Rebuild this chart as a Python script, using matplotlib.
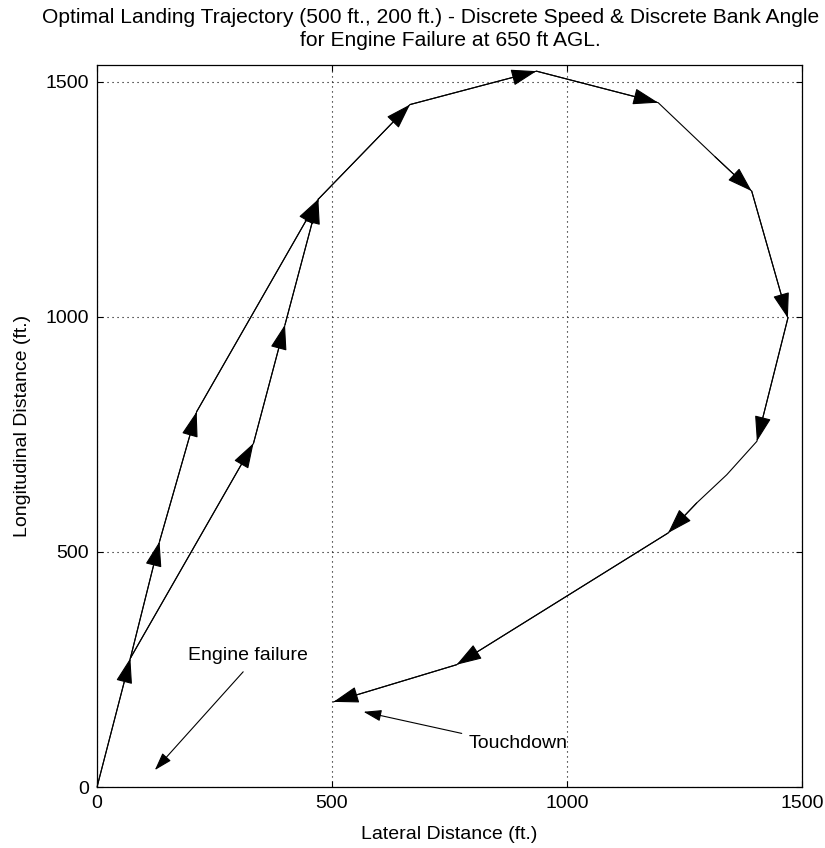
import matplotlib
matplotlib.use("Agg")
import matplotlib.pyplot as plt

# ---- data (ft) ----
start_x = [0, 71]
start_y = [0, 274]
start_arrow = [False, True]

branch_a_x = [71, 133, 212, 471]
branch_a_y = [274, 522, 798, 1250]
branch_a_arrow = [False, True, True, True]

branch_b_x = [71, 333, 400, 471]
branch_b_y = [274, 731, 983, 1250]
branch_b_arrow = [False, True, True, True]

loop_x = [471, 666, 935, 1194, 1315, 1393, 1470, 1404, 1340, 1276, 1215, 765, 503]
loop_y = [1250, 1451, 1522, 1455, 1340, 1267, 997, 735, 664, 604, 540, 260, 181]
loop_arrow = [False, True, True, True, False, True, True, True, False, False, True, True, True]

title_lines = ["Optimal Landing Trajectory (500 ft., 200 ft.) - Discrete Speed & Discrete Bank Angle",
               "for Engine Failure at 650 ft AGL."]
x_label = "Lateral Distance (ft.)"
y_label = "Longitudinal Distance (ft.)"
ticks = [0, 500, 1000, 1500]

engine_text = "Engine failure"
engine_text_pos = (194, 270)
engine_arrow_from = (311, 245)
engine_arrow_to = (123, 36)

td_text = "Touchdown"
td_text_pos = (790, 83)
td_arrow_from = (776, 114)
td_arrow_to = (567, 160)

# ---- figure ----
FS = 14
plt.rcParams['font.family'] = ['Liberation Sans', 'DejaVu Sans']
fig = plt.figure(figsize=(8.25, 8.48), dpi=100)
ax = fig.add_axes([0.1176, 0.0719, 0.8545, 0.8514])
ax.set_xlim(0, 1500)
ax.set_ylim(0, 1535)

ax.set_xticks(ticks)
ax.set_yticks(ticks)
ax.grid(True, color='black', linestyle=(0, (1, 3.5)), linewidth=0.8)
ax.tick_params(direction='in', top=True, right=True, length=4, width=0.8,
               labelsize=FS, pad=6)
for s in ax.spines.values():
    s.set_linewidth(0.9)

head_main = '-|>,head_length=16,head_width=5.2'
head_ann = '-|>,head_length=11,head_width=3.5'

def draw_path(xs, ys, flags):
    ax.plot(xs, ys, color='black', linewidth=0.8, zorder=3)
    for i in range(1, len(xs)):
        if flags[i]:
            ax.annotate('', xy=(xs[i], ys[i]), xytext=(xs[i - 1], ys[i - 1]),
                        arrowprops=dict(arrowstyle=head_main, mutation_scale=1,
                                        color='black', lw=0.8,
                                        shrinkA=0, shrinkB=0),
                        zorder=4)

draw_path(start_x, start_y, start_arrow)
draw_path(branch_a_x, branch_a_y, branch_a_arrow)
draw_path(branch_b_x, branch_b_y, branch_b_arrow)
draw_path(loop_x, loop_y, loop_arrow)

ax.annotate('', xy=engine_arrow_to, xytext=engine_arrow_from,
            arrowprops=dict(arrowstyle=head_ann, mutation_scale=1, color='black',
                            lw=0.8, shrinkA=0, shrinkB=0))
ax.text(*engine_text_pos, engine_text, fontsize=FS, ha='left', va='baseline')
ax.annotate('', xy=td_arrow_to, xytext=td_arrow_from,
            arrowprops=dict(arrowstyle=head_ann, mutation_scale=1, color='black',
                            lw=0.8, shrinkA=0, shrinkB=0))
ax.text(*td_text_pos, td_text, fontsize=FS, ha='left', va='baseline')

ax.set_xlabel(x_label, fontsize=FS, labelpad=10)
ax.set_ylabel(y_label, fontsize=FS, labelpad=10)

fig.text(0.5224, 0.9788, title_lines[0], fontsize=15.1, ha='center', va='center')
fig.text(0.5455, 0.9528, title_lines[1], fontsize=15.1, ha='center', va='center')

fig.savefig("out.png", dpi=100)
